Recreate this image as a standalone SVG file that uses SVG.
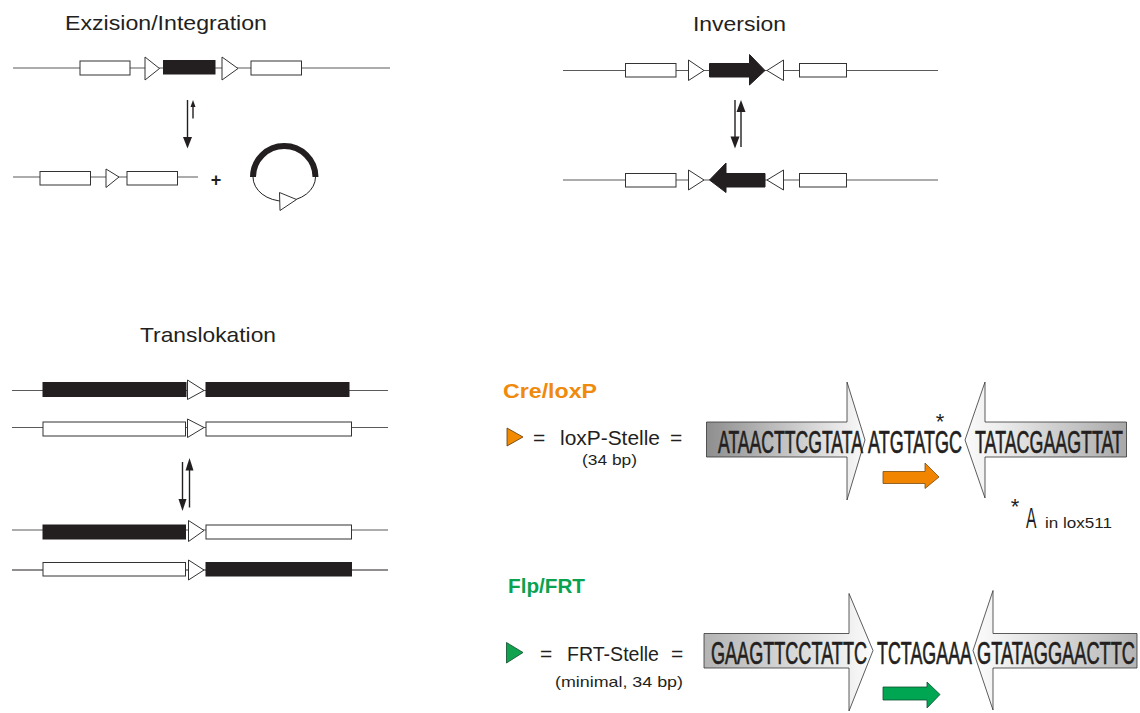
<svg xmlns="http://www.w3.org/2000/svg" width="1140" height="713" viewBox="0 0 1140 713">
<defs>
<style>
.t{font-family:"Liberation Sans",Arial,sans-serif;fill:#231f20}
.ttl{font-size:21px}
.seq{font-size:32px;stroke:#231f20;stroke-width:0.7}
.ln{stroke:#5a5a5a;stroke-width:1.2;fill:none}
.wb{fill:#fff;stroke:#333;stroke-width:1}
.bb{fill:#231f20;stroke:#231f20;stroke-width:1}
.tri{fill:#fff;stroke:#333;stroke-width:1}
.ar{stroke:#231f20;stroke-width:1.4;fill:none}
.arh{fill:#231f20}
.big{stroke:#333;stroke-width:0.8}
</style>
<linearGradient id="gL" x1="0" y1="0" x2="1" y2="0">
<stop offset="0" stop-color="#8e8e8e"/><stop offset="0.8" stop-color="#e4e4e4"/><stop offset="1" stop-color="#fafafa"/>
</linearGradient>
<linearGradient id="gR" x1="0" y1="0" x2="1" y2="0">
<stop offset="0" stop-color="#fafafa"/><stop offset="0.2" stop-color="#eeeeee"/><stop offset="1" stop-color="#a8a8a8"/>
</linearGradient>
<linearGradient id="gL2" x1="0" y1="0" x2="1" y2="0">
<stop offset="0" stop-color="#b4b4b4"/><stop offset="0.8" stop-color="#ebebeb"/><stop offset="1" stop-color="#fcfcfc"/>
</linearGradient>
<linearGradient id="gR2" x1="0" y1="0" x2="1" y2="0">
<stop offset="0" stop-color="#fcfcfc"/><stop offset="0.2" stop-color="#efefef"/><stop offset="1" stop-color="#b4b4b4"/>
</linearGradient>
</defs>
<rect width="1140" height="713" fill="#fff"/>

<!-- Titles -->
<g id="titles">
<text class="t ttl" x="65" y="30" textLength="202" lengthAdjust="spacingAndGlyphs">Exzision/Integration</text>
<text class="t ttl" x="693" y="31" textLength="93" lengthAdjust="spacingAndGlyphs">Inversion</text>
<text class="t ttl" x="140" y="342" textLength="136" lengthAdjust="spacingAndGlyphs">Translokation</text>
</g>

<!-- Exzision row 1 -->
<g id="exz-row1">
<line class="ln" x1="13" y1="68" x2="390" y2="68"/>
<rect class="wb" x="80" y="61" width="50" height="14"/>
<polygon class="tri" points="145,57 145,80 159.5,68.5"/>
<rect class="bb" x="163.5" y="60.5" width="51.5" height="13.5"/>
<polygon class="tri" points="222,57 222,80 238,68.5"/>
<rect class="wb" x="251" y="61" width="50.5" height="14"/>
</g>
<!-- Exzision row 2 -->
<g id="exz-row2">
<line class="ln" x1="13" y1="177" x2="198" y2="177"/>
<rect class="wb" x="40" y="171.5" width="50.5" height="13.5"/>
<polygon class="tri" points="106,169 106,187.5 119,177"/>
<rect class="wb" x="127" y="171.5" width="50.5" height="13.5"/>
</g>
<g id="exz-plus">
<text class="t" x="216" y="185.5" font-size="18" font-weight="bold" text-anchor="middle">+</text>
</g>
<g id="exz-circle">
<path d="M253,177 A31,24 0 0 0 315.5,177" fill="none" stroke="#231f20" stroke-width="1"/>
<path d="M253,177 A31.2,31 0 0 1 315.5,177" fill="none" stroke="#231f20" stroke-width="6"/>
<polygon class="tri" points="279.5,192.5 280,210.5 296.5,199.5"/>
</g>

<!-- Inversion row 1 -->
<g id="inv-row1">
<line class="ln" x1="563" y1="70.5" x2="938" y2="70.5"/>
<rect class="wb" x="625.5" y="63.5" width="50.5" height="13.5"/>
<polygon class="tri" points="688.5,60 688.5,80.5 704,70.5"/>
<polygon class="bb" points="709.5,63.5 749.5,63.5 749.5,54.5 765,70.5 749.5,85 749.5,77 709.5,77"/>
<polygon class="tri" points="783.5,60 783.5,80.5 767,70.5"/>
<rect class="wb" x="799.5" y="63.5" width="47" height="13.5"/>
</g>
<!-- Inversion row 2 -->
<g id="inv-row2">
<line class="ln" x1="563" y1="180" x2="938" y2="180"/>
<rect class="wb" x="625.5" y="173.5" width="50.5" height="13.5"/>
<polygon class="tri" points="688.5,170 688.5,190 704,180"/>
<polygon class="bb" points="765,173.5 726,173.5 726,163 709.5,180 726,192.5 726,187 765,187"/>
<polygon class="tri" points="783.5,170 783.5,190 767,180"/>
<rect class="wb" x="799.5" y="173.5" width="47" height="13.5"/>
</g>

<!-- Translokation rows -->
<g id="tr-row1">
<line class="ln" x1="12" y1="390.5" x2="388" y2="390.5"/>
<rect class="bb" x="43" y="382.5" width="143" height="14"/>
<polygon class="tri" points="187.5,380 187.5,399.5 204,390.5"/>
<rect class="bb" x="206" y="382.5" width="143" height="14"/>
</g>
<g id="tr-row2">
<line class="ln" x1="12" y1="427.5" x2="388" y2="427.5"/>
<rect class="wb" x="43" y="422" width="142.5" height="14"/>
<polygon class="tri" points="187.5,419 187.5,437.5 204,427.5"/>
<rect class="wb" x="206" y="422" width="145.5" height="14"/>
</g>
<g id="tr-row3">
<line class="ln" x1="12" y1="530" x2="388" y2="530"/>
<rect class="bb" x="43" y="525" width="142.5" height="14"/>
<polygon class="tri" points="188.5,520.5 188.5,541.5 204,530.5"/>
<rect class="wb" x="206" y="525" width="145.5" height="14"/>
</g>
<g id="tr-row4">
<line x1="12" y1="570" x2="388" y2="570" stroke="#231f20" stroke-width="1.2"/>
<rect class="wb" x="43" y="562.5" width="142.5" height="13.5"/>
<polygon class="tri" points="188.5,560 188.5,580 204,570"/>
<rect class="bb" x="206" y="562.5" width="145.5" height="13.5"/>
</g>

<!-- Connectors: equilibrium arrows -->
<g id="connectors">
<line class="ar" x1="187.5" y1="100" x2="187.5" y2="138"/>
<polygon class="arh" points="183,137 192,137 187.5,148.5"/>
<line class="ar" x1="193" y1="118.5" x2="193" y2="106"/>
<polygon class="arh" points="190.5,107 195.5,107 193,100"/>

<line class="ar" x1="735" y1="100" x2="735" y2="138"/>
<polygon class="arh" points="730.5,136.5 739.5,136.5 735,148.5"/>
<line class="ar" x1="741" y1="147" x2="741" y2="111"/>
<polygon class="arh" points="736.5,112 745.5,112 741,100"/>

<line class="ar" x1="182.5" y1="462" x2="182.5" y2="500" stroke-width="3"/>
<polygon class="arh" points="178.5,499 186.5,499 182.5,511"/>
<line class="ar" x1="189.5" y1="507.5" x2="189.5" y2="469" stroke-width="3"/>
<polygon class="arh" points="185.5,470.5 193.5,470.5 189.5,458"/>
</g>

<!-- Cre/loxP legend -->
<g id="cre-title">
<text class="t" x="503" y="398" font-size="21" font-weight="bold" style="fill:#f08a0c" textLength="94" lengthAdjust="spacingAndGlyphs">Cre/loxP</text>
</g>
<g id="lox-legend">
<polygon points="507,428 507,446 523,437" fill="#f28a00" stroke="#5a3a10" stroke-width="0.8"/>
<text class="t" x="533" y="445" font-size="21">=</text>
<text class="t" x="560" y="445" font-size="21" textLength="100" lengthAdjust="spacingAndGlyphs">loxP-Stelle</text>
<text class="t" x="670" y="445" font-size="21">=</text>
<text class="t" x="582" y="465" font-size="15" textLength="55" lengthAdjust="spacingAndGlyphs">(34 bp)</text>
</g>
<g id="lox-seq">
<path class="big" fill="url(#gL)" d="M706.5,422 L847,422 L847,382 L865,440 L847,500 L847,457 L706.5,457 Z"/>
<path class="big" fill="url(#gR)" d="M1126.5,422 L985,422 L985,382 L965,440 L985,498 L985,457 L1126.5,457 Z"/>
<text class="t seq" transform="translate(718,453) scale(0.55,1)" textLength="263.6" lengthAdjust="spacingAndGlyphs">ATAACTTCGTATA</text>
<text class="t seq" transform="translate(868,453) scale(0.55,1)" textLength="170.9" lengthAdjust="spacingAndGlyphs">ATGTATGC</text>
<text class="t seq" transform="translate(975,453) scale(0.55,1)" textLength="269.1" lengthAdjust="spacingAndGlyphs">TATACGAAGTTAT</text>
<text class="t" x="940" y="429" font-size="22" text-anchor="middle">*</text>
<path d="M883,471.5 L925,471.5 L925,463 L939,477 L925,488.5 L925,483.5 L883,483.5 Z" fill="#f28500" stroke="#7a4a10" stroke-width="0.8"/>
</g>
<g id="lox511-note">
<text class="t" x="1015" y="514" font-size="22" text-anchor="middle">*</text>
<text class="t" transform="translate(1026,528) scale(0.55,1)" font-size="30" textLength="19" lengthAdjust="spacingAndGlyphs">A</text>
<text class="t" x="1045" y="528" font-size="15" textLength="67" lengthAdjust="spacingAndGlyphs">in lox511</text>
</g>

<!-- Flp/FRT legend -->
<g id="flp-title">
<text class="t" x="508" y="593" font-size="21" font-weight="bold" style="fill:#0aa24f" textLength="77" lengthAdjust="spacingAndGlyphs">Flp/FRT</text>
</g>
<g id="frt-legend">
<polygon points="506.5,642.5 506.5,663 523,652.5" fill="#10a24e" stroke="#0c4a2a" stroke-width="0.8"/>
<text class="t" x="540" y="661" font-size="21">=</text>
<text class="t" x="567" y="661" font-size="21" textLength="92" lengthAdjust="spacingAndGlyphs">FRT-Stelle</text>
<text class="t" x="671" y="661" font-size="21">=</text>
<text class="t" x="555" y="687" font-size="15" textLength="128" lengthAdjust="spacingAndGlyphs">(minimal, 34 bp)</text>
</g>
<g id="frt-seq">
<path class="big" fill="url(#gL2)" d="M704,633.5 L849,633.5 L849,593.5 L873,650.5 L849,711 L849,668 L704,668 Z"/>
<path class="big" fill="url(#gR2)" d="M1137,633.5 L993,633.5 L993,590.5 L973,650.5 L993,710 L993,668 L1137,668 Z"/>
<text class="t seq" transform="translate(711,663.5) scale(0.55,1)" textLength="283.6" lengthAdjust="spacingAndGlyphs">GAAGTTCCTATTC</text>
<text class="t seq" transform="translate(877,663.5) scale(0.55,1)" textLength="172.7" lengthAdjust="spacingAndGlyphs">TCTAGAAA</text>
<text class="t seq" transform="translate(977,663.5) scale(0.55,1)" textLength="287.3" lengthAdjust="spacingAndGlyphs">GTATAGGAACTTC</text>
<path d="M883,687 L927,687 L927,682 L940,694.5 L927,708 L927,700 L883,700 Z" fill="#00a651" stroke="#0a5030" stroke-width="0.8"/>
</g>
</svg>
